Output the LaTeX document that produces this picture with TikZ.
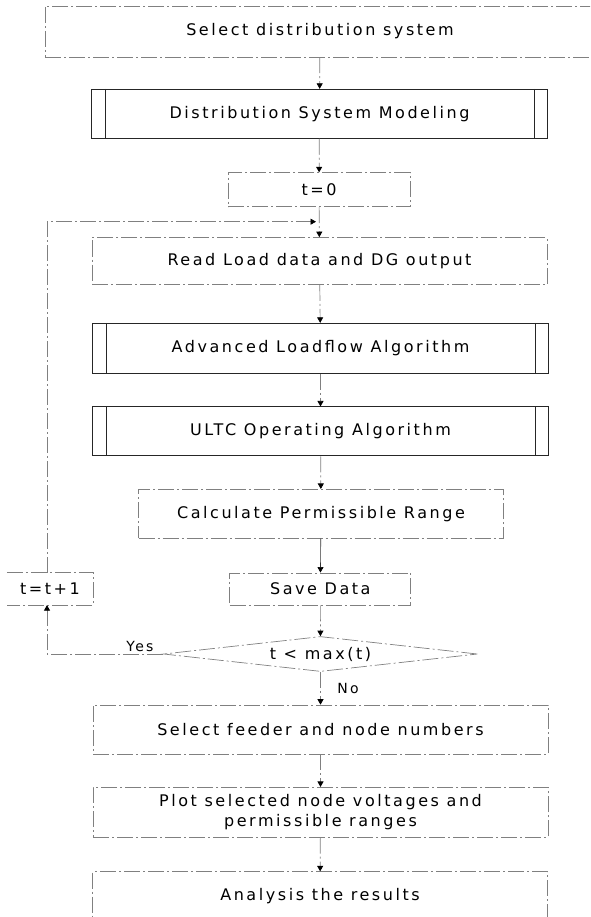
\documentclass[tikz,border=0pt]{standalone}
\usepackage{fontspec}
\setmainfont[LetterSpace=16]{DejaVu Sans}
\usetikzlibrary{arrows.meta,shapes.geometric}

\begin{document}
\begin{tikzpicture}[x=1pt,y=-1pt,
  font=\fontsize{16}{20}\selectfont,
  faint/.style={draw=black!50, line width=0.7pt,
    dash pattern=on 16pt off 3pt on 2pt off 3pt},
  procbox/.style={faint, rectangle, inner sep=0pt, align=center},
  subbox/.style={draw=black!85, line width=0.9pt, rectangle, inner sep=0pt},
  subline/.style={draw=black!85, line width=0.9pt},
  tip/.tip={Triangle[width=6pt,length=5.5pt,color=black]},
  link/.style={faint, -tip},
  solidlink/.style={draw=black!80, line width=0.6pt, -tip},
  small/.style={font=\fontsize{14}{16}\selectfont},
]
\useasboundingbox (0,0) rectangle (590,917);
\clip (0,0) rectangle (590,917);

% process boxes
\node[procbox, minimum width=550pt, minimum height=51pt] (sel) at (320,31.4)
  {Select distribution system};
\node[subbox, minimum width=456pt, minimum height=49pt] (dsm) at (319.5,113.8)
  {Distribution System Modeling};
\node[procbox, minimum width=182pt, minimum height=34pt] (t0) at (319,189.7) {t=0};
\node[procbox, minimum width=455pt, minimum height=47pt] (read) at (319.5,261)
  {Read Load data and DG output};
\node[subbox, minimum width=456pt, minimum height=50pt] (adv) at (320.5,348.3)
  {Advanced Loadflow Algorithm};
\node[subbox, minimum width=456pt, minimum height=49pt] (ultc) at (320.5,431.4)
  {ULTC Operating Algorithm};
\node[procbox, minimum width=365pt, minimum height=49pt] (calc) at (321,513.8)
  {Calculate Permissible Range};
\node[procbox, minimum width=181pt, minimum height=32pt] (save) at (320.3,588.9)
  {Save Data};
\node[rectangle, inner sep=0pt, minimum width=86pt, minimum height=32pt] (tt1)
  at (50,588.9) {t=t+1};
\node[diamond, faint, aspect=9, inner sep=0pt, minimum width=314pt,
  minimum height=35pt] (cond) at (320.5,654) {t < max(t)};
\node[procbox, minimum width=455pt, minimum height=49pt] (feed) at (320.5,729.5)
  {Select feeder and node numbers};
\node[procbox, minimum width=455pt, minimum height=50pt] (plot) at (320.5,812.3)
  {Plot selected node voltages and\\permissible ranges};
\node[procbox, minimum width=455pt, minimum height=49pt] (ana) at (320,896.2)
  {Analysis the results};

% double side bars of the predefined-process boxes
\foreach \b in {dsm,adv,ultc}{
  \draw[subline] ([xshift=14pt]\b.north west) -- ([xshift=14pt]\b.south west);
  \draw[subline] ([xshift=-14pt]\b.north east) -- ([xshift=-14pt]\b.south east);
}

% open-sided counter box
\draw[faint] (tt1.north west) -- (tt1.north east) -- (tt1.south east)
  -- (tt1.south west);

% main flow
\draw[link] (sel) -- (dsm);
\draw[link] (dsm) -- (t0);
\draw[link] (t0) -- (read);
\draw[link] (read) -- (adv);
\draw[link] (adv) -- (ultc);
\draw[link] (ultc) -- (calc);
\draw[solidlink] (calc) -- (save);
\draw[link] (save) -- (cond);
\draw[link] (cond) -- (feed);
\draw[link] (feed) -- (plot);
\draw[link] (plot) -- (ana);

% loop back
\coordinate (lx) at (47,0);
\coordinate (ly) at (316,221.7);
\draw[link] (cond.west) -- (cond.west -| lx) -- (tt1.south -| lx);
\draw[link] (tt1.north -| lx) |- (ly);

% branch labels
\node[small] (yes) at (140,646.5) {Yes};
\node[small] (no) at (348,688.3) {No};
\end{tikzpicture}
\end{document}
